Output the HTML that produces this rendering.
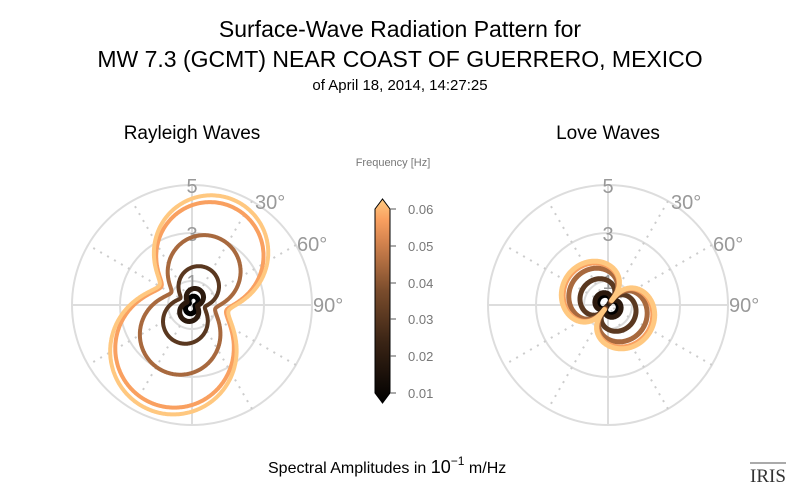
<!DOCTYPE html>
<html><head><meta charset="utf-8"><style>
html,body{margin:0;padding:0;background:#fff;}
svg{display:block;font-family:"Liberation Sans",sans-serif;}
</style></head><body>
<svg id="s" width="800" height="496" viewBox="0 0 800 496">
<text x="400" y="37" text-anchor="middle" font-size="23" fill="#000">Surface-Wave Radiation Pattern for</text>
<text x="400" y="67" text-anchor="middle" font-size="23" fill="#000">MW 7.3 (GCMT) NEAR COAST OF GUERRERO, MEXICO</text>
<text x="400" y="90" text-anchor="middle" font-size="15" fill="#000">of April 18, 2014, 14:27:25</text>
<text x="192" y="139" text-anchor="middle" font-size="19" fill="#000">Rayleigh Waves</text>
<text x="608" y="139" text-anchor="middle" font-size="19" fill="#000">Love Waves</text>
<text x="393" y="166" text-anchor="middle" font-size="11" fill="#777">Frequency [Hz]</text>
<g id="p1"></g><g id="p2"></g>
<defs><linearGradient id="cg" x1="0" y1="1" x2="0" y2="0">
<stop offset="0" stop-color="#000"/><stop offset="0.3" stop-color="#3a2415"/><stop offset="0.55" stop-color="#7a4c2c"/><stop offset="0.8" stop-color="#d88650"/><stop offset="0.9" stop-color="#f9a060"/><stop offset="1" stop-color="#ffca80"/></linearGradient></defs>
<path d="M375 209 L382.5 199 L390 209 L390 393 L382.5 403 L375 393 Z" fill="url(#cg)" stroke="#000" stroke-width="1"/>
<g stroke="#555" stroke-width="1">
<line x1="390" y1="209" x2="396" y2="209"/><line x1="390" y1="246" x2="396" y2="246"/><line x1="390" y1="283" x2="396" y2="283"/><line x1="390" y1="319" x2="396" y2="319"/><line x1="390" y1="356" x2="396" y2="356"/><line x1="390" y1="393" x2="396" y2="393"/></g>
<g font-size="13" fill="#777">
<text x="408" y="214">0.06</text><text x="408" y="251">0.05</text><text x="408" y="288">0.04</text><text x="408" y="324">0.03</text><text x="408" y="361">0.02</text><text x="408" y="398">0.01</text></g>
<text x="268" y="473" font-size="16" fill="#000">Spectral Amplitudes in <tspan font-size="18">10</tspan><tspan dy="-8" font-size="12">−1</tspan><tspan dy="8"> m/Hz</tspan></text>
<text x="768" y="482" text-anchor="middle" font-size="19" font-family="Liberation Serif,serif" fill="#333">IRIS</text>
<line x1="750" y1="463" x2="786" y2="463" stroke="#555" stroke-width="1"/>
</svg>
<script>
var NS="http://www.w3.org/2000/svg";
function el(g,t,a){var e=document.createElementNS(NS,t);for(var k in a)e.setAttribute(k,a[k]);g.appendChild(e);return e;}
function grid(g,cx,cy){
 [24,72,120].forEach(function(r){el(g,"circle",{cx:cx,cy:cy,r:r,fill:"none",stroke:"#ddd","stroke-width":2});});
 el(g,"line",{x1:cx-120,y1:cy,x2:cx+120,y2:cy,stroke:"#ddd","stroke-width":2});
 el(g,"line",{x1:cx,y1:cy-120,x2:cx,y2:cy+120,stroke:"#ddd","stroke-width":2});
 [30,60,120,150].forEach(function(a){var t=a*Math.PI/180;el(g,"line",{x1:cx+120*Math.sin(t),y1:cy-120*Math.cos(t),x2:cx-120*Math.sin(t),y2:cy+120*Math.cos(t),stroke:"#ccc","stroke-width":2,"stroke-dasharray":"2,6"});});
 var L=[["5",cx,cy-112,"middle"],["3",cx,cy-64,"middle"],["1",cx,cy-16,"middle"],["30°",cx+63,cy-96,"start"],["60°",cx+105,cy-54,"start"],["90°",cx+121,cy+7,"start"]];
 L.forEach(function(l){var t=el(g,"text",{x:l[1],y:l[2],"text-anchor":l[3],"font-size":20,fill:"#999"});t.textContent=l[0];});
}
function curve(g,cx,cy,f,col,w){var d="";for(var i=0;i<=720;i++){var t=i*Math.PI/360,r=f(t);d+=(i?"L":"M")+(cx+r*Math.sin(t)).toFixed(1)+" "+(cy-r*Math.cos(t)).toFixed(1);}el(g,"path",{d:d+"Z",fill:"none",stroke:col,"stroke-width":w,"stroke-linejoin":"round"});}
function circ(t,d,phi,R){var a=t-phi;var s=d*Math.sin(a);var q=R*R-s*s;if(q<0)return 0;var r=d*Math.cos(a)+Math.sqrt(q);return r>0?r:0;}
var g1=document.getElementById("p1"),g2=document.getElementById("p2");
grid(g1,192,305);grid(g2,608,305);
var cols=["#000","#2c1a0e","#5a3820","#a8693e","#f9a060","#ffc880"];
var sR=[9,17,40,72,106,113];
var D=Math.PI/180;
for(var k=0;k<6;k++){(function(s){var m=s/113;curve(g1,192,305,function(t){var c1=circ(t,56*m,20*D,57*m),c2=circ(t,50*m,202*D,63*m),w=33*m,p=5;return Math.pow(Math.pow(c1,p)+Math.pow(c2,p)+Math.pow(w,p),1/p);},cols[k],k<2?5:4);})(sR[k]);}
var sL=[11,14,30,42,48,50];
for(var k=0;k<6;k++){(function(s){curve(g2,608,305,function(t){var phi=-52*Math.PI/180;var a=Math.abs(Math.cos(t-phi));return s*(0.12+0.88*Math.pow(a,0.5));},cols[k],5);})(sL[k]);}
</script>
</body></html>
